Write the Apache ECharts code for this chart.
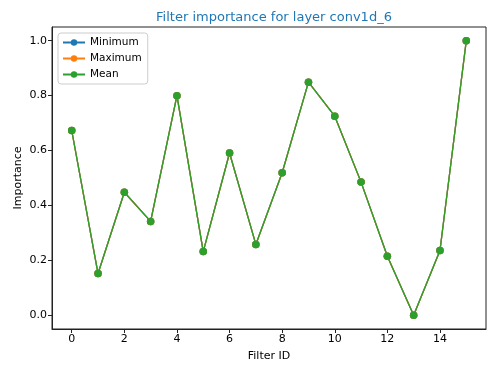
<!DOCTYPE html>
<html>
<head>
<meta charset="utf-8">
<script src="https://cdn.jsdelivr.net/npm/echarts@6/dist/echarts.min.js"></script>
<style>
  html, body { margin: 0; padding: 0; background: #fff; }
  #chart { width: 500px; height: 375px; }
</style>
</head>
<body>
<div id="chart"></div>
<script>
// filter ids and importance values
const filterIds = [0, 1, 2, 3, 4, 5, 6, 7, 8, 9, 10, 11, 12, 13, 14, 15]
const minimum = [0.673, 0.152, 0.448, 0.342, 0.800, 0.232, 0.591, 0.258, 0.519, 0.849, 0.725, 0.485, 0.215, 0.0, 0.236, 1.0]
const maximum = [0.673, 0.152, 0.448, 0.342, 0.800, 0.232, 0.591, 0.258, 0.519, 0.849, 0.725, 0.485, 0.215, 0.0, 0.236, 1.0]
const mean = [0.673, 0.152, 0.448, 0.342, 0.800, 0.232, 0.591, 0.258, 0.519, 0.849, 0.725, 0.485, 0.215, 0.0, 0.236, 1.0]
const xTicks = [0, 2, 4, 6, 8, 10, 12, 14]
const yTicks = [0, 0.2, 0.4, 0.6, 0.8, 1.0]

const font = 'DejaVu Sans'
const chart = echarts.init(document.getElementById('chart'))

function mkSeries(name, values, color) {
  return {
    name: name,
    type: 'line',
    data: filterIds.map((id, i) => [id, values[i]]),
    symbol: 'circle',
    symbolSize: 7.5,
    color: color,
    lineStyle: { width: 1.3, color: color },
    itemStyle: { color: color },
    animation: false
  }
}

const option = {
  animation: false,
  textStyle: { fontFamily: font },
  title: {
    text: 'Filter importance for layer conv1d_6',
    left: 269,
    textAlign: 'center',
    top: 6,
    textStyle: { color: '#1f77b4', fontSize: 13, fontWeight: 'normal', fontFamily: font }
  },
  legend: {
    orient: 'vertical',
    left: 58,
    top: 33,
    itemWidth: 22,
    itemHeight: 8,
    itemGap: 5,
    padding: [4, 6, 4, 4],
    borderColor: '#ccc',
    borderWidth: 1,
    borderRadius: 3,
    backgroundColor: 'rgba(255,255,255,0.8)',
    textStyle: { fontSize: 10.5, color: '#000', fontFamily: font },
    data: ['Minimum', 'Maximum', 'Mean']
  },
  grid: {
    left: 52, right: 14, top: 27, bottom: 46,
    show: true,
    borderColor: '#222',
    borderWidth: 1,
    backgroundColor: 'transparent'
  },
  xAxis: {
    type: 'value',
    min: -0.75,
    max: 15.75,
    name: 'Filter ID',
    nameLocation: 'middle',
    nameGap: 22,
    nameTextStyle: { fontSize: 11, color: '#000' },
    axisLine: { show: true, onZero: false, lineStyle: { color: '#222' } },
    axisTick: { show: true, length: 4, lineStyle: { color: '#222' }, customValues: xTicks },
    axisLabel: { fontSize: 11, color: '#000', margin: 5, customValues: xTicks },
    splitLine: { show: false }
  },
  yAxis: {
    type: 'value',
    min: -0.05,
    max: 1.05,
    name: 'Importance',
    nameLocation: 'middle',
    nameMoveOverlap: false,
    nameGap: 28,
    nameTextStyle: { fontSize: 11, color: '#000' },
    axisLine: { show: true, onZero: false, lineStyle: { color: '#222' } },
    axisTick: { show: true, length: 4, lineStyle: { color: '#222' }, customValues: yTicks },
    axisLabel: {
      fontSize: 11, color: '#000', margin: 5, customValues: yTicks,
      formatter: v => v.toFixed(1)
    },
    splitLine: { show: false }
  },
  series: [
    mkSeries('Minimum', minimum, '#1f77b4'),
    mkSeries('Maximum', maximum, '#ff7f0e'),
    mkSeries('Mean', mean, '#2ca02c')
  ]
}
chart.setOption(option)
</script>
</body>
</html>
